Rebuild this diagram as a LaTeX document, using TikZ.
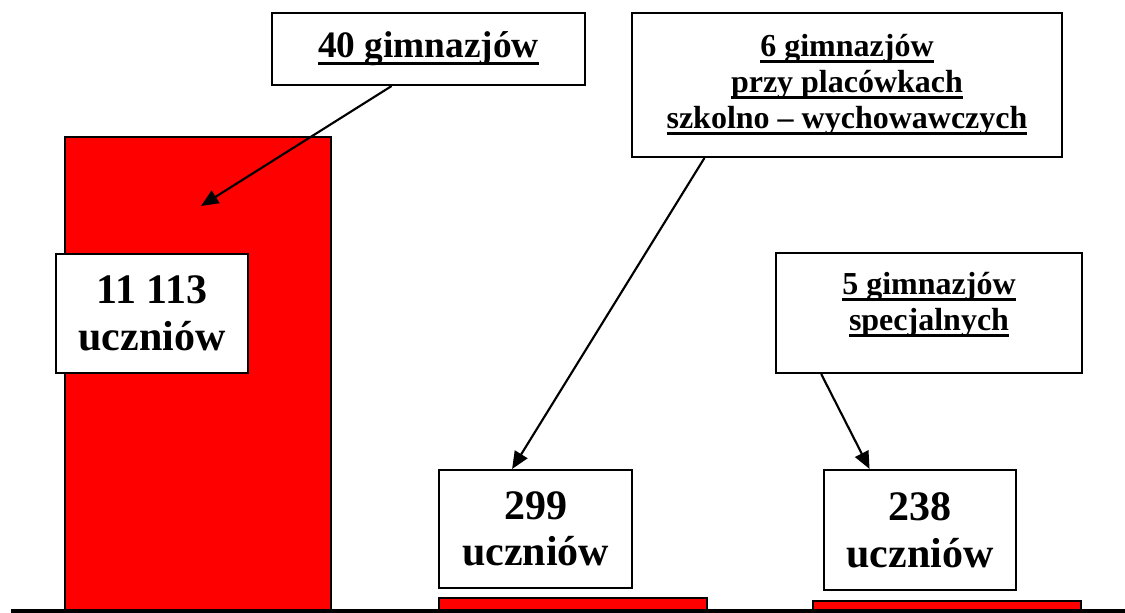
\documentclass[tikz,border=0pt]{standalone}
\usepackage{fontspec}
\setmainfont{Liberation Serif}
\usepackage{tikz}
\usetikzlibrary{calc,arrows.meta}
\newcommand\podkr[1]{\setbox0\hbox{#1}\rlap{\rule[-0.2em]{\wd0}{0.1em}}\box0}

\begin{document}
\begin{tikzpicture}[x=0.75pt,y=-0.75pt,
		ramka/.style={draw,fill=white,line width=1.5pt,inner sep=0pt,align=center},
		duzy/.style={font=\bfseries\fontsize{31.5}{35}\selectfont},
		sredni/.style={font=\bfseries\fontsize{24}{27}\selectfont},
		slupek/.style={draw,fill=red,line width=1.5pt},
		strzalka/.style={line width=1.6pt,-{Triangle[length=13pt,width=11pt]}}]
			          \useasboundingbox (0,0) rectangle (1125,613);
			          %SLUPKI
			          \draw[slupek] (65,137) rectangle (331,611);
			          \draw[slupek] (439,598) rectangle (707,611);
			          \draw[slupek] (813,601) rectangle (1081,611);
			          \draw[line width=2.4pt] (11,611) -- (1125,611);
			          %LICZBA UCZNIOW
			          \node[ramka,duzy,minimum width=144pt,minimum height=89.25pt] (u1) at (152,313.5) {11 113\\uczniów};
			          \node[ramka,duzy,minimum width=144.75pt,minimum height=88.5pt] (u2) at (535.5,529) {299\\uczniów};
			          \node[ramka,duzy,minimum width=144pt,minimum height=90pt] (u3) at (920,530) {238\\uczniów};
			          %GIMNAZJA
			          \node[ramka,font=\bfseries\fontsize{28}{32}\selectfont,minimum width=234.75pt,minimum height=54pt] (b40) at (428.5,49) {\podkr{40 gimnazjów}};
			          \node[ramka,sredni,minimum width=322.5pt,minimum height=108pt] (b6) at (847,85) {\podkr{6 gimnazjów}\\\podkr{przy placówkach}\\\podkr{szkolno – wychowawczych}};
			          \node[ramka,sredni,minimum width=229.5pt,minimum height=90pt] (b5) at (929,313) {\podkr{5 gimnazjów}\\\podkr{specjalnych}\\[-18pt]\strut};
			          %STRZALKI
			          \coordinate (t1) at (201,206);
			          \draw[strzalka] ($(b40.south west)!0.383!(b40.south east)$) -- (t1);
			          \draw[strzalka] ($(b6.south west)!0.17!(b6.south east)$) -- ($(u2.north west)!0.38!(u2.north east)$);
			          \draw[strzalka] ($(b5.south west)!0.15!(b5.south east)$) -- ($(u3.north west)!0.24!(u3.north east)$);
\end{tikzpicture}
\end{document}
